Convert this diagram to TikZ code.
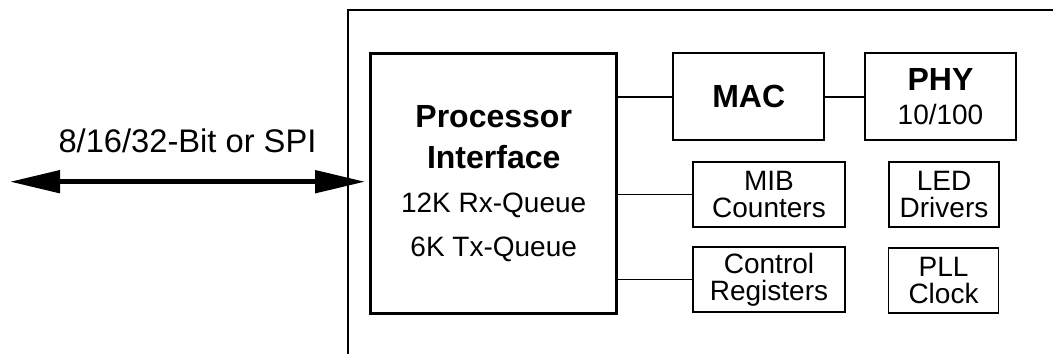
\documentclass[tikz,border=0pt]{standalone}
\usepackage{fontspec}
\setmainfont{Liberation Sans}
\usetikzlibrary{arrows.meta}
\begin{document}
\begin{tikzpicture}[x=0.75pt,y=-0.75pt,
  blk/.style={draw=black,line width=1.4pt,align=center,inner sep=0pt,
    font=\fontsize{21}{20}\selectfont},
  conn/.style={draw=black,line width=1.4pt},
  busarrow/.style={line width=3.6pt,>={Triangle[length=37.5pt,width=16.5pt]},<->}]
\useasboundingbox (0,0) rectangle (1053,354);
% outer frame
\coordinate (fbl) at (348,354);
\coordinate (ftl) at (348,10);
\coordinate (ftr) at (1053,10);
\draw[line width=1.3pt] (fbl) -- (ftl) -- (ftr);
% blocks
\node[blk,line width=2.4pt,minimum width=184.5pt,minimum height=195pt,
  font=\fontsize{21}{30.5}\selectfont] (proc) at (493.7,183.3)
  {{\fontsize{24}{24}\selectfont\bfseries Processor}\\
   {\fontsize{24}{24}\selectfont\bfseries Interface}\\[2.7pt]
   12K Rx-Queue\\[2.3pt]
   6K Tx-Queue};
\node[blk,minimum width=113pt,minimum height=65pt] (mac) at (748.7,96.7)
  {{\fontsize{24}{24}\selectfont\bfseries MAC}};
\node[blk,minimum width=113pt,minimum height=65pt,
  font=\fontsize{21}{25.7}\selectfont] (phy) at (940.5,96.5)
  {{\fontsize{24}{24}\selectfont\bfseries PHY}\\10/100};
\node[blk,minimum width=114pt,minimum height=48.75pt] (mib) at (769,194.5)
  {MIB\\Counters};
\node[blk,minimum width=114pt,minimum height=48.75pt] (ctrl) at (769,279.5)
  {Control\\Registers};
\node[blk,minimum width=82.5pt,minimum height=48.75pt] (led) at (944,194.5)
  {LED\\Drivers};
\node[blk,minimum width=82.5pt,minimum height=48.75pt] (pll) at (943.5,280.5)
  {PLL\\Clock};
% connectors
\draw[conn] (proc.east |- mac.west) -- (mac.west);
\draw[conn] (mac.east) -- (mac.east -| phy.west);
\draw[conn] (proc.east |- mib.west) -- (mib.west);
\draw[conn] (proc.east |- ctrl.west) -- (ctrl.west);
% host bus arrow
\coordinate (busl) at (10,181.7);
\draw[busarrow,shorten >=3pt] (busl) -- (proc.west |- busl);
\node[anchor=base,font=\fontsize{24.5}{24.5}\selectfont] (buslabel) at (187.5,152)
  {8/16/32-Bit or SPI};
\end{tikzpicture}
\end{document}
